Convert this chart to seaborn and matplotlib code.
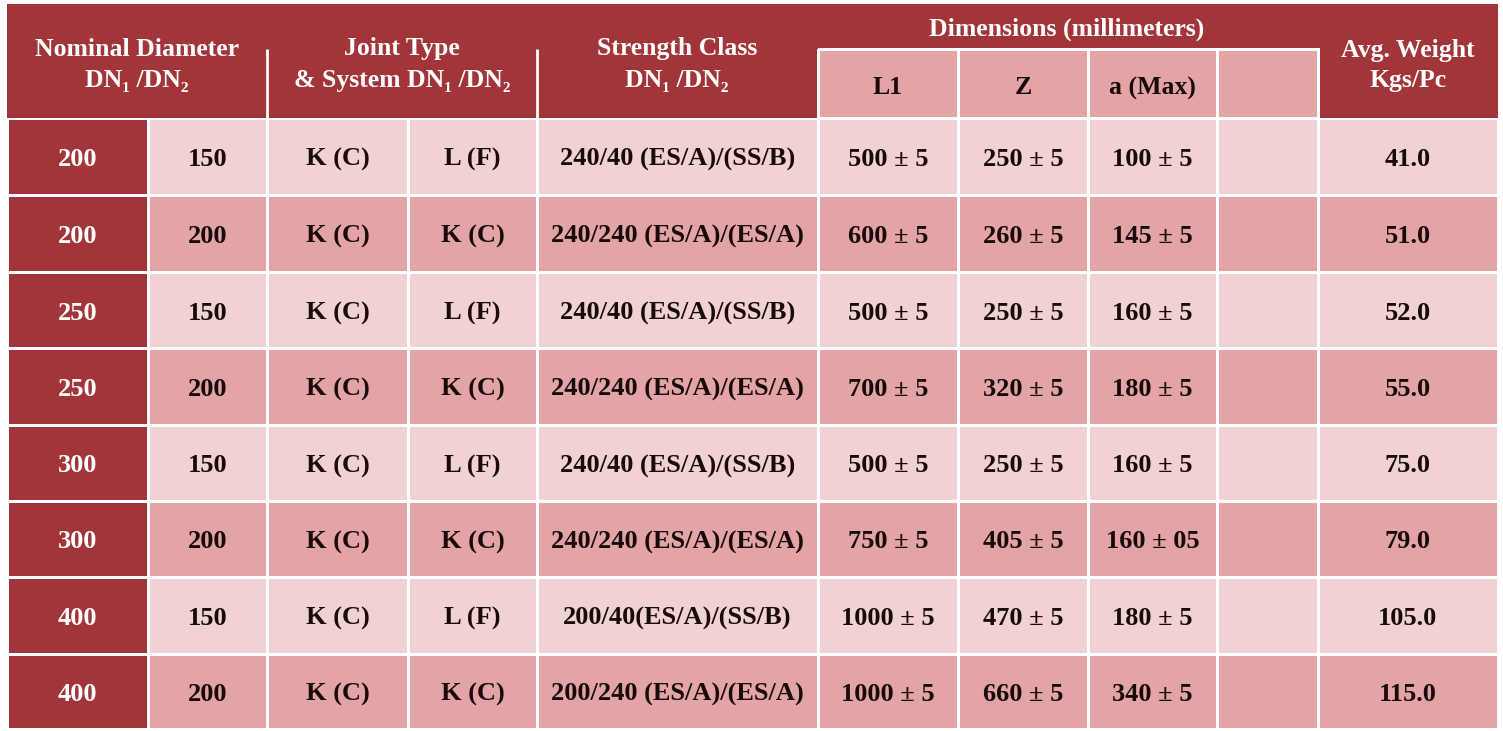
import numpy as np
import matplotlib
matplotlib.use("Agg")
import matplotlib.pyplot as plt
from matplotlib.colors import ListedColormap
from matplotlib.patches import Rectangle
import seaborn as sns

sns.set_theme(style="white")
plt.rcParams['font.family'] = ['Liberation Serif', 'DejaVu Sans']

# table contents
dn1 = [200, 200, 250, 250, 300, 300, 400, 400]
dn2 = [150, 200, 150, 200, 150, 200, 150, 200]
joint1 = ["K (C)"] * 8
joint2 = ["L (F)", "K (C)", "L (F)", "K (C)", "L (F)", "K (C)", "L (F)", "K (C)"]
strength = ["240/40 (ES/A)/(SS/B)", "240/240 (ES/A)/(ES/A)",
            "240/40 (ES/A)/(SS/B)", "240/240 (ES/A)/(ES/A)",
            "240/40 (ES/A)/(SS/B)", "240/240 (ES/A)/(ES/A)",
            "200/40(ES/A)/(SS/B)", "200/240 (ES/A)/(ES/A)"]
l1 = [500, 600, 500, 700, 500, 750, 1000, 1000]
z = [250, 260, 250, 320, 250, 405, 470, 660]
a_max = [100, 145, 160, 180, 160, 160, 180, 340]
a_tol = ["5", "5", "5", "5", "5", "05", "5", "5"]
weight = [41.0, 51.0, 52.0, 55.0, 75.0, 79.0, 105.0, 115.0]
sub_heads = ["L1", "Z", "a (Max)", ""]

# colours
dark = "#A13539"
light = "#F1D2D3"
mid = "#E2A4A6"
cmap = ListedColormap([dark, light, mid])

# layout in pixel units
x_edges = [7, 148, 267, 408, 537, 818, 958, 1088, 1217, 1318, 1498]
y_edges = [118, 195, 272, 348, 425, 501, 577, 654, 729]

fig = plt.figure(figsize=(15.03, 7.31), dpi=100)
ax = fig.add_axes([0, 0, 1, 1])
ax.set_xlim(0, 1503)
ax.set_ylim(731, 0)
ax.axis("off")

# body cells
n_rows = len(dn1)
n_cols = len(x_edges) - 1
codes = np.zeros((n_rows, n_cols))
for r in range(n_rows):
    codes[r, 1:] = 1 if r % 2 == 0 else 2
ax.pcolormesh(x_edges, y_edges, codes, cmap=cmap, vmin=0, vmax=2,
              edgecolors="white", linewidth=2)

# header block
ax.add_patch(Rectangle((x_edges[0], 4), x_edges[-1] - x_edges[0], 114,
                       facecolor=dark, edgecolor="none"))
ax.pcolormesh(x_edges[5:10], [49, 118], np.full((1, 4), 2.0), cmap=cmap,
              vmin=0, vmax=2, edgecolors="white", linewidth=2)
ax.vlines([267, 537], 49, 118, colors="white", linewidth=2)

hkw = dict(color="white", fontweight="bold", fontsize=18.5, ha="center", va="center")
ax.text(137, 49, "Nominal Diameter", **hkw)
ax.text(137, 81, "DN\u2081 /DN\u2082", **hkw)
ax.text(402, 49, "Joint Type", **hkw)
ax.text(402, 81, "& System DN\u2081 /DN\u2082", **hkw)
ax.text(677, 49, "Strength Class", **hkw)
ax.text(677, 81, "DN\u2081 /DN\u2082", **hkw)
ax.text(1067, 29, "Dimensions (millimeters)", **hkw)
ax.text(1408, 50, "Avg. Weight", **hkw)
ax.text(1408, 80, "Kgs/Pc", **hkw)
for i, s in enumerate(sub_heads):
    xc = (x_edges[5 + i] + x_edges[6 + i]) / 2
    ax.text(xc, 88, s, color="#1a0a0a", fontweight="bold", fontsize=18.5,
            ha="center", va="center")

# body text
bkw = dict(color="#1a0a0a", fontweight="bold", fontsize=19, ha="center", va="center")
for r in range(n_rows):
    yc = (y_edges[r] + y_edges[r + 1]) / 2 + 3
    cells = [str(dn1[r]), str(dn2[r]), joint1[r], joint2[r], strength[r],
             f"{l1[r]} \u00b1 5", f"{z[r]} \u00b1 5", f"{a_max[r]} \u00b1 {a_tol[r]}",
             "", f"{weight[r]:.1f}"]
    for c, s in enumerate(cells):
        xc = (x_edges[c] + x_edges[c + 1]) / 2
        kw = dict(bkw)
        if c == 0:
            kw["color"] = "white"
        ax.text(xc, yc, s, **kw)

fig.savefig("out.png", dpi=100, facecolor="white")
